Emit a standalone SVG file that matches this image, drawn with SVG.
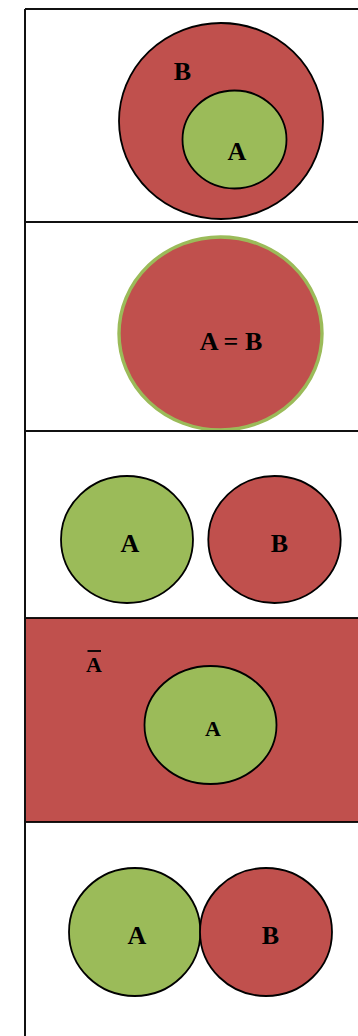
<svg xmlns="http://www.w3.org/2000/svg" width="358" height="1036" viewBox="0 0 358 1036">
<style>
.red{fill:#C0504D}
.grn{fill:#9BBB59}
.ol{stroke:#000;stroke-width:1.8}
.frame{stroke:#111;stroke-width:2;fill:none}
.lbl{font-family:"Liberation Serif","Times New Roman",serif;font-weight:bold;font-size:26px;fill:#000;text-anchor:middle}
.sm{font-size:22px}
</style>
<rect width="358" height="1036" fill="#fff"/>
<g id="panel4-bg">
<rect x="25" y="618" width="340" height="204" class="red ol"/>
</g>
<g id="subset">
<ellipse cx="221" cy="121" rx="102" ry="98" class="red ol"/>
<ellipse cx="234.5" cy="139.5" rx="52" ry="49" class="grn ol"/>
<text x="182.5" y="80" class="lbl">B</text>
<text x="237" y="160" class="lbl">A</text>
</g>
<g id="equal">
<ellipse cx="220.5" cy="333.5" rx="101.5" ry="96.5" class="red" stroke="#9BBB59" stroke-width="3.4"/>
<text x="231" y="349.5" class="lbl">A = B</text>
</g>
<g id="disjoint">
<ellipse cx="127" cy="539.5" rx="66" ry="63.5" class="grn ol"/>
<ellipse cx="274.5" cy="539.5" rx="66.2" ry="63.5" class="red ol"/>
<text x="130" y="551.5" class="lbl">A</text>
<text x="279.5" y="551.5" class="lbl">B</text>
</g>
<g id="complement">
<ellipse cx="210.5" cy="725" rx="66" ry="59" class="grn ol"/>
<text x="94" y="672" class="lbl sm">A</text>
<line x1="87.5" y1="651" x2="101" y2="651" stroke="#000" stroke-width="1.8"/>
<text x="213" y="736" class="lbl sm">A</text>
</g>
<g id="touching">
<ellipse cx="134.7" cy="932" rx="65.7" ry="64" class="grn ol"/>
<ellipse cx="266" cy="932" rx="66" ry="64" class="red ol"/>
<text x="137" y="944" class="lbl">A</text>
<text x="270.5" y="944" class="lbl">B</text>
</g>
<g id="connectors">
<line x1="25" y1="9" x2="358" y2="9" class="frame"/>
<line x1="25" y1="222" x2="358" y2="222" class="frame"/>
<line x1="25" y1="431" x2="358" y2="431" class="frame"/>
<line x1="25" y1="9" x2="25" y2="1036" class="frame"/>
</g>
</svg>
